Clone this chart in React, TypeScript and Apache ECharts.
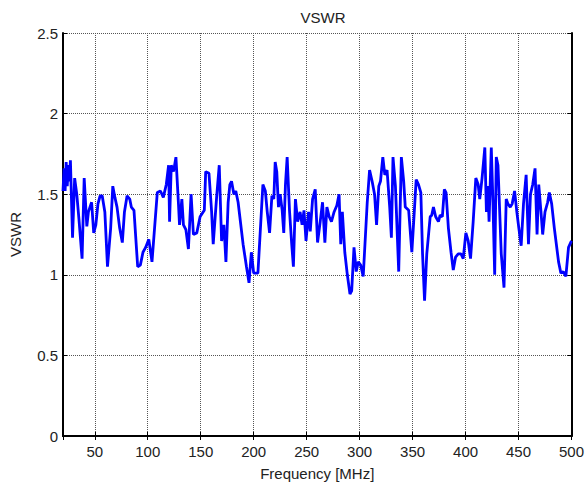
import React, { useEffect, useRef } from "react";
import * as echarts from "echarts";

const freq = [
  20, 21, 22, 23, 24, 25, 26, 27, 29, 31, 33, 35, 38, 40, 42.5, 44, 47, 49, 51, 53,
  55, 57, 59.5, 62, 65, 67, 69, 71, 73.5, 76, 78, 80.5, 83, 84.5, 87, 90.5, 93, 95.5, 98, 101,
  104, 109, 112, 114.7, 117.5, 119.7, 120.6, 122.2, 124.3, 126.6, 129, 130, 132.2, 133.7, 136, 138.4, 140.9, 143.1, 146.3, 149.4,
  153.4, 154.7, 157.8, 160.3, 161.8, 165, 167.5, 169.7, 171.9, 173.8, 175.9, 177.5, 179.1, 181.3, 183.1, 185.3, 190, 193.2, 195.6, 197.8,
  200, 204, 208.7, 211, 212.8, 215, 217.2, 219, 220.3, 221.8, 223.4, 225, 226.9, 228.4, 230, 231.6, 233.8, 235.9, 237.5, 239.4,
  241.5, 243.8, 245.7, 247.5, 249.4, 251.8, 253.4, 255.6, 258.1, 260.3, 262.8, 265, 267.2, 269.1, 271.3, 273.4, 275.9, 278.5, 280.6, 282.2,
  283.7, 286, 288.4, 290.9, 292.5, 294.7, 296.8, 298.7, 301, 303.4, 307.2, 309.4, 311.8, 314.1, 316, 318.1, 319.7, 321.9, 323.8, 325.9,
  328.4, 330, 331.5, 333.8, 336.9, 339.4, 341.6, 343.1, 346.3, 349.3, 351.6, 353.4, 355.6, 357.8, 359.4, 361.3, 363.4, 366.6, 368.1, 369.7,
  371.8, 374.4, 376, 378.1, 380, 381.6, 383.8, 386.3, 388.4, 390.6, 393.1, 395.7, 397.8, 400.3, 402.5, 404.7, 407.2, 409.7, 411.9, 413.4,
  415.6, 418.2, 419.7, 421, 422.2, 424.3, 425.9, 427.5, 429, 430.6, 433.7, 436.3, 438.4, 440, 442.2, 444, 446.3, 448.4, 450.3, 452.5,
  454.7, 457.2, 459.4, 461.3, 463.4, 465.6, 467.5, 469.1, 471.2, 472.8, 475, 477.5, 479.1, 481.3, 483.8, 487.8, 490, 492.2, 494.7, 497.2,
  500,
];

const vswr = [
  1.52, 1.66, 1.52, 1.7, 1.55, 1.68, 1.58, 1.71, 1.23, 1.6, 1.5, 1.35, 1.1, 1.6, 1.3, 1.39, 1.45, 1.26, 1.31, 1.44,
  1.49, 1.49, 1.39, 1.05, 1.29, 1.55, 1.48, 1.42, 1.29, 1.2, 1.39, 1.49, 1.47, 1.42, 1.4, 1.05, 1.06, 1.14, 1.17, 1.22,
  1.08, 1.51, 1.52, 1.48, 1.56, 1.68, 1.33, 1.68, 1.64, 1.73, 1.44, 1.31, 1.47, 1.31, 1.28, 1.16, 1.5, 1.25, 1.26, 1.36,
  1.4, 1.64, 1.63, 1.39, 1.19, 1.48, 1.68, 1.21, 1.31, 1.08, 1.45, 1.56, 1.58, 1.5, 1.52, 1.45, 1.19, 1.05, 0.95, 1.14,
  1.01, 1.01, 1.56, 1.52, 1.39, 1.26, 1.49, 1.47, 1.7, 1.64, 1.42, 1.5, 1.4, 1.26, 1.56, 1.73, 1.4, 1.19, 1.05, 1.47,
  1.33, 1.39, 1.31, 1.4, 1.21, 1.39, 1.27, 1.47, 1.53, 1.2, 1.33, 1.45, 1.2, 1.42, 1.36, 1.33, 1.39, 1.43, 1.5, 1.19,
  1.39, 1.14, 1.0, 0.88, 0.9, 1.17, 1.02, 1.08, 1.06, 0.99, 1.45, 1.65, 1.58, 1.5, 1.31, 1.55, 1.58, 1.73, 1.62, 1.65,
  1.42, 1.23, 1.73, 1.55, 1.02, 1.73, 1.58, 1.42, 1.4, 1.14, 1.39, 1.59, 1.56, 1.51, 1.13, 0.84, 1.13, 1.36, 1.37, 1.42,
  1.36, 1.33, 1.37, 1.36, 1.53, 1.51, 1.29, 1.14, 1.03, 1.11, 1.13, 1.13, 1.1, 1.26, 1.21, 1.1, 1.33, 1.6, 1.56, 1.47,
  1.6, 1.79, 1.39, 1.55, 1.33, 1.79, 1.44, 1.0, 1.73, 1.68, 1.13, 0.92, 1.47, 1.44, 1.42, 1.44, 1.52, 1.39, 1.29, 1.18,
  1.44, 1.62, 1.19, 1.5, 1.56, 1.66, 1.25, 1.56, 1.39, 1.25, 1.39, 1.45, 1.51, 1.44, 1.29, 1.08, 1.01, 1.02, 0.99, 1.17,
  1.21,
];

const titleText = "VSWR";
const xName = "Frequency [MHz]";
const yName = "VSWR";

export default function App() {
  const ref = useRef<HTMLDivElement>(null);
  useEffect(() => {
    document.body.style.margin = "0";
    if (!ref.current) return;
    const chart = echarts.init(ref.current, null, { renderer: "svg" });
    const font = "Liberation Sans";
    const txt = "#222";
    const fs = 15;
    const data = freq.map((f, i) => [f, vswr[i]]);
    const hiddenAxisCommon = {
      axisLabel: { show: false },
      splitLine: { show: false },
      axisLine: { show: true, lineStyle: { color: "#000", width: 2 } },
      axisTick: { show: true, inside: true, length: 4, lineStyle: { color: "#000" } },
    };
    chart.setOption({
      animation: false,
      backgroundColor: "#fff",
      title: {
        text: titleText,
        left: 318,
        top: 5,
        textAlign: "center",
        textStyle: { fontSize: fs, fontWeight: "normal", fontFamily: font, color: txt },
      },
      grid: { left: 63, right: 13, top: 33, bottom: 49, show: false },
      xAxis: [
        {
          type: "value",
          min: 20,
          max: 500,
          minInterval: 50,
          maxInterval: 50,
          name: xName,
          nameLocation: "middle",
          nameGap: 30,
          nameTextStyle: { fontSize: fs, fontFamily: font, color: txt },
          axisLabel: {
            fontSize: fs,
            fontFamily: font,
            color: txt,
            margin: 8,
            showMinLabel: false,
            formatter: (v: number) => (v % 50 === 0 ? String(v) : ""),
          },
          axisLine: { show: true, onZero: false, lineStyle: { color: "#000", width: 2 } },
          axisTick: { show: true, inside: true, length: 4, lineStyle: { color: "#000" } },
          splitLine: { show: true, lineStyle: { type: "dotted", color: "#555", width: 1 } },
        },
        {
          type: "value",
          position: "top",
          min: 20,
          max: 500,
          minInterval: 50,
          maxInterval: 50,
          ...hiddenAxisCommon,
        },
      ],
      yAxis: [
        {
          type: "value",
          min: 0,
          max: 2.5,
          interval: 0.5,
          name: yName,
          nameLocation: "middle",
          nameGap: 40,
          nameTextStyle: { fontSize: fs, fontFamily: font, color: txt },
          axisLabel: { fontSize: fs, fontFamily: font, color: txt, margin: 5 },
          axisLine: { show: true, onZero: false, lineStyle: { color: "#000", width: 2 } },
          axisTick: { show: true, inside: true, length: 4, lineStyle: { color: "#000" } },
          splitLine: { show: true, lineStyle: { type: "dotted", color: "#555", width: 1 } },
        },
        {
          type: "value",
          position: "right",
          min: 0,
          max: 2.5,
          interval: 0.5,
          ...hiddenAxisCommon,
        },
      ],
      series: [
        {
          type: "line",
          data,
          xAxisIndex: 0,
          yAxisIndex: 0,
          showSymbol: false,
          symbol: "none",
          lineStyle: { color: "#0000ff", width: 2.8 },
          itemStyle: { color: "#0000ff" },
        },
      ],
    });
    return () => chart.dispose();
  }, []);
  return <div ref={ref} style={{ width: 587, height: 486 }} />;
}
